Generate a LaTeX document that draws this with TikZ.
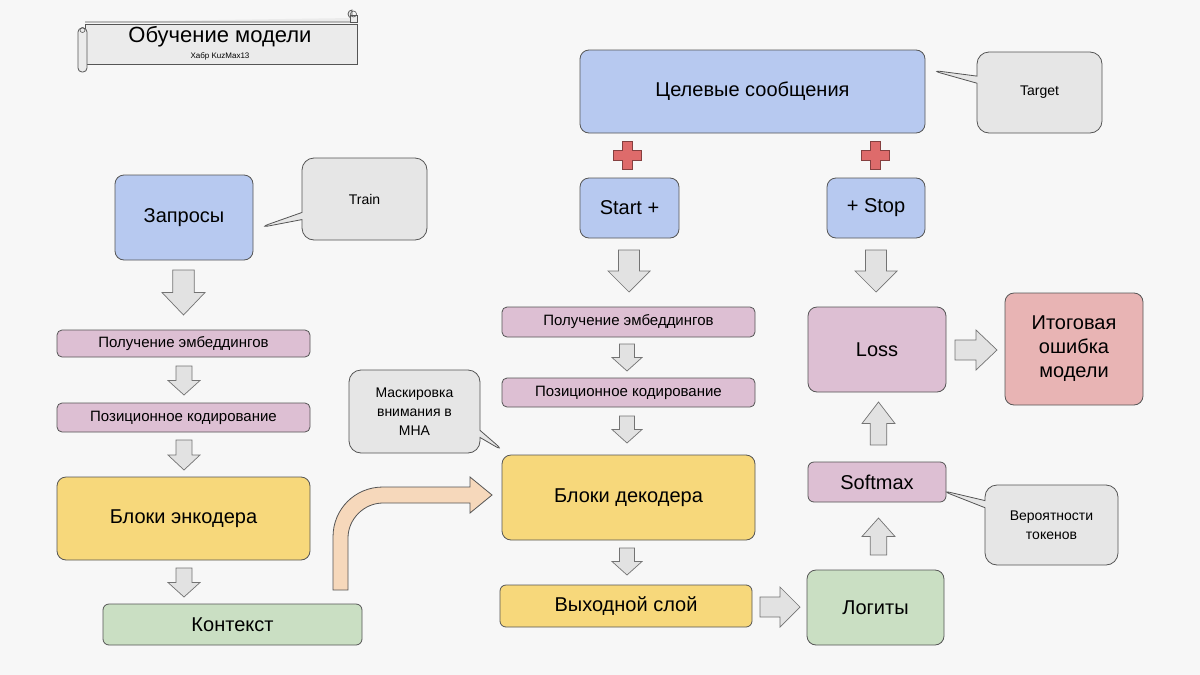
\documentclass[tikz,border=0pt]{standalone}
\usepackage{fontspec}
\setmainfont{Liberation Sans}
\usetikzlibrary{shapes.callouts}
\definecolor{bg}{HTML}{F7F7F7}
\definecolor{cblue}{HTML}{B7C9F0}
\definecolor{cpink}{HTML}{DDBFD3}
\definecolor{cyel}{HTML}{F7D87B}
\definecolor{cgreen}{HTML}{CADFC3}
\definecolor{cfin}{HTML}{E8B4B4}
\definecolor{cgray}{HTML}{E6E6E6}
\definecolor{carr}{HTML}{E2E2E2}
\definecolor{corg}{HTML}{F6D8BB}
\definecolor{cred}{HTML}{DE6B6B}
\definecolor{cline}{HTML}{555555}
\tikzset{
 box/.style={draw=cline, line width=0.8pt, rounded corners=9pt, align=center, inner sep=2pt},
 big/.style={box, font=\fontsize{20}{24}\selectfont},
 small/.style={box, rounded corners=5pt, font=\fontsize{15}{18}\selectfont},
 call/.style={rectangle callout, draw=cline, fill=cgray, line width=0.8pt, rounded corners=12pt, align=center, font=\fontsize{14}{19}\selectfont},
 garr/.style={draw=black!55, fill=carr, line width=0.7pt, line join=miter},
}
\newcommand\darr[4]{\draw[garr] (#1+#3*0.25,#2) -- (#1+#3*0.75,#2) -- (#1+#3*0.75,#2+#4*0.5) -- (#1+#3,#2+#4*0.5) -- (#1+#3*0.5,#2+#4) -- (#1,#2+#4*0.5) -- (#1+#3*0.25,#2+#4*0.5) -- cycle;}
\newcommand\uarr[4]{\draw[garr] (#1+#3*0.25,#2+#4) -- (#1+#3*0.75,#2+#4) -- (#1+#3*0.75,#2+#4*0.5) -- (#1+#3,#2+#4*0.5) -- (#1+#3*0.5,#2) -- (#1,#2+#4*0.5) -- (#1+#3*0.25,#2+#4*0.5) -- cycle;}
\newcommand\rarr[4]{\draw[garr] (#1,#2+#4*0.25) -- (#1,#2+#4*0.75) -- (#1+#3*0.5,#2+#4*0.75) -- (#1+#3*0.5,#2+#4) -- (#1+#3,#2+#4*0.5) -- (#1+#3*0.5,#2) -- (#1+#3*0.5,#2+#4*0.25) -- cycle;}
\newcommand\rplus[2]{\draw[fill=cred, draw=cred!60!black, line width=0.6pt] (#1-5,#2-14) -- (#1+5,#2-14) -- (#1+5,#2-5) -- (#1+14,#2-5) -- (#1+14,#2+5) -- (#1+5,#2+5) -- (#1+5,#2+14) -- (#1-5,#2+14) -- (#1-5,#2+5) -- (#1-14,#2+5) -- (#1-14,#2-5) -- (#1-5,#2-5) -- cycle;}
\begin{document}
\begin{tikzpicture}[x=1pt,y=-1pt]
\fill[bg] (0,0) rectangle (1200,675);
\useasboundingbox (0,0) rectangle (1200,675);
% title scroll
\draw[cline, fill=cgray!80, line width=0.8pt] (85,22) -- (352,22) -- (352,10) arc[start angle=90,end angle=-90,radius=-4] ;
\draw[cline, fill=cgray!80, line width=0.8pt] (85,24) rectangle (357,64);
\draw[cline, fill=cgray!80, line width=0.8pt, rounded corners=4pt] (78,28) rectangle (87,72);
\draw[cline, fill=cgray!80, line width=0.8pt] (350,22) rectangle (357,15);
\draw[cline, line width=0.6pt] (353.5,14) circle (3);
\draw[cline, line width=0.6pt] (82.5,30) circle (2.5);
\node (title) at (220,37) {\fontsize{22}{26}\selectfont Обучение модели};
\node (sub) at (220,56) {\fontsize{8}{10}\selectfont Хабр KuzMax13};
% encoder side
\node[big, fill=cblue, minimum width=138, minimum height=85] (zap) at (184,217.5) {Запросы};
\node[small, fill=cpink, minimum width=253, minimum height=27] (emb1) at (183.5,343.5) {Получение эмбеддингов};
\node[small, fill=cpink, minimum width=253, minimum height=29] (pos1) at (183.5,417.5) {Позиционное кодирование};
\node[big, fill=cyel, minimum width=253, minimum height=83] (enc) at (183.5,518.5) {Блоки энкодера};
\node[big, rounded corners=6pt, fill=cgreen, minimum width=259, minimum height=41] (ctx) at (232.5,624.5) {Контекст};
% decoder side
\node[big, fill=cblue, minimum width=345, minimum height=83] (tgt) at (752.5,91.5) {Целевые сообщения};
\node[big, fill=cblue, minimum width=99, minimum height=60] (start) at (629.5,208) {Start +};
\node[big, fill=cblue, minimum width=98, minimum height=60] (stop) at (876,208) {+ Stop};
\node[small, fill=cpink, minimum width=253, minimum height=30] (emb2) at (628.5,322) {Получение эмбеддингов};
\node[small, fill=cpink, minimum width=253, minimum height=29] (pos2) at (628.5,392.5) {Позиционное кодирование};
\node[big, fill=cyel, minimum width=253, minimum height=85] (dec) at (628.5,497.5) {Блоки декодера};
\node[big, rounded corners=6pt, fill=cyel, minimum width=252, minimum height=42] (out) at (626,606) {Выходной слой};
\node[big, fill=cgreen, minimum width=137, minimum height=75] (log) at (875.5,607.5) {Логиты};
\node[big, rounded corners=6pt, fill=cpink, minimum width=138, minimum height=40] (soft) at (877,482) {Softmax};
\node[big, fill=cpink, minimum width=138, minimum height=85] (loss) at (877,349.5) {Loss};
\node[big, fill=cfin, minimum width=138, minimum height=112] (fin) at (1074,349) {Итоговая\\ошибка\\модели};
% callouts
\node[call, minimum width=125, minimum height=82, callout absolute pointer={(258,228)}] (train) at (364.5,199) {Train};
\node[call, minimum width=131, minimum height=83, callout absolute pointer={(505,452)}] (mask) at (414.5,411.5) {Маскировка\\внимания в\\MHA};
\node[call, minimum width=125, minimum height=81, callout absolute pointer={(930,70)}] (target) at (1039.5,92.5) {Target};
\node[call, minimum width=133, minimum height=80, callout absolute pointer={(940,490)}] (prob) at (1051.5,525) {Вероятности\\токенов};
% plus signs
\rplus{627}{155}
\rplus{875}{155}
% block arrows
\darr{162}{270}{43}{45}
\darr{608}{250}{42}{42}
\darr{855}{250}{42}{42}
\darr{168}{366}{32}{29}
\darr{168}{440}{32}{30}
\darr{168}{568}{32}{29}
\darr{612}{344}{30}{27}
\darr{612}{416}{30}{27}
\darr{612}{548}{30}{27}
\rarr{760}{587}{40}{40}
\rarr{955}{330}{42}{40}
\uarr{862}{518}{33}{37}
\uarr{862}{402}{33}{43}
% bent arrow
\draw[fill=corg, draw=cline, line width=0.8pt, line join=miter] (333,590) -- (333,537) .. controls (333,509) and (355,487) .. (383,487) -- (470,487) -- (470,477) -- (492,495) -- (470,513) -- (470,503) -- (383,503) .. controls (364,503) and (348,519) .. (348,538) -- (348,590) -- cycle;
\end{tikzpicture}
\end{document}
